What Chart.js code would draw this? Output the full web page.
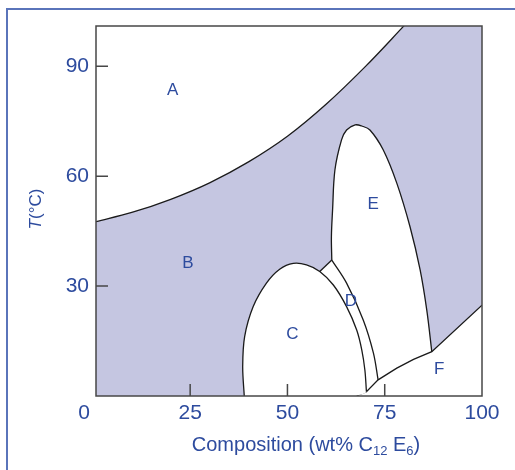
<!DOCTYPE html>
<html>
<head>
<meta charset="utf-8">
<script src="https://cdn.jsdelivr.net/npm/chart.js@4.4.1/dist/chart.umd.min.js"></script>
<style>
  html, body { margin: 0; padding: 0; background: #fff; }
  #wrap { position: relative; width: 515px; height: 470px; }
</style>
</head>
<body>
<div id="wrap"><canvas id="phase"></canvas></div>
<script>
// C12E6 / 水 相图 (组成 wt% vs 温度 °C)

const X_MIN = 0.8, X_MAX = 100, Y_MIN = 0, Y_MAX = 101;
const X_TICKS = [0, 25, 50, 75, 100];
const Y_TICKS = [30, 60, 90];

// A / B 分界线
const abX = [0.8, 10, 20, 30, 40, 50, 60, 70, 80, 83];
const abY = [47.6, 50.1, 53.7, 58.2, 63.9, 70.9, 79.7, 89.9, 101.1, 104.5];

// C 区穹顶 (左下 -> 右下)
const cX = [38.9, 38.5, 39.0, 41.2, 44.6, 48.0, 51.5, 54.9, 58.3, 61.8, 65.2, 67.8, 69.1, 69.9, 70.3];
const cY = [0, 8.0, 16.2, 24.4, 30.8, 34.6, 36.2, 35.8, 34.0, 30.3, 24.4, 18.0, 12.6, 7.1, 1.2];
const C_JOIN = 8; // 与 D 区连线的交点

// C 顶到 E 底的短连线
const jX = [58.3, 61.4];
const jY = [34.0, 37.1];

// D / E 分界
const dX = [61.4, 65.2, 69.5, 72.1, 73.3];
const dY = [37.1, 30.8, 20.7, 11.7, 4.4];

// E 区边界
const eX = [61.4, 61.3, 61.6, 62.2, 63.9, 65.2, 67.4, 69.1, 71.2, 74.6, 78.1, 81.5, 84.1, 85.8, 87.1];
const eY = [37.1, 43.5, 50.8, 61.7, 69.9, 72.6, 74.0, 73.7, 72.6, 67.2, 58.1, 46.2, 34.4, 23.5, 12.1];

// F 区上边界
const fX = [67.6, 70.3, 73.3, 78.1, 82.4, 87.1, 100];
const fY = [0, 1.2, 4.4, 7.6, 10.0, 12.1, 24.8];

// 区域标注
const regionNames = ["A", "B", "C", "D", "E", "F"];
const regionX = [20.5, 24.4, 51.3, 66.3, 72.0, 89.0];
const regionY = [83.9, 36.7, 17.3, 26.1, 52.6, 7.6];

const COLORS = {
  text: "#2d4b9e",
  frame: "#5a74ba",
  shade: "#c5c6e1",
  line: "#1a1a1a",
  axis: "#474747",
};
const FONT = "'Liberation Sans', Arial, sans-serif";

const pts = (xs, ys) => xs.map((x, i) => ({ x, y: ys[i] }));

const cFill = [...pts(cX, cY), { x: fX[0], y: fY[0] }];
const deFill = [
  ...pts(cX, cY).slice(C_JOIN),
  ...pts(fX, fY).slice(2, 6),
  ...pts(eX, eY).reverse(),
];

const base = { pointRadius: 0, borderColor: COLORS.line, borderWidth: 1.3, tension: 0.35 };

const datasets = [
  // 底色 (B 区)
  { ...base, data: [{ x: X_MIN, y: Y_MIN }, { x: X_MAX, y: Y_MIN }], borderWidth: 0,
    fill: "end", backgroundColor: COLORS.shade, order: 9 },
  // A 区
  { ...base, data: pts(abX, abY), fill: "end", backgroundColor: "#fff", order: 8 },
  // D + E 区白底
  { ...base, data: deFill, borderWidth: 0, tension: 0, fill: "shape", backgroundColor: "#fff", order: 7 },
  // F 区
  { ...base, data: pts(fX, fY), tension: 0, fill: "start", backgroundColor: "#fff", order: 6 },
  // C 区白底
  { ...base, data: cFill, borderWidth: 0, fill: "shape", backgroundColor: "#fff", order: 5 },
  // 各区边界
  { ...base, data: pts(cX, cY), fill: false, order: 4 },
  { ...base, data: pts(jX, jY), tension: 0, fill: false, order: 3 },
  { ...base, data: pts(dX, dY), fill: false, order: 2 },
  { ...base, data: pts(eX, eY), fill: false, order: 1 },
];

const overlay = {
  id: "overlay",
  beforeDraw(chart) {
    const { ctx } = chart;
    ctx.save();
    ctx.strokeStyle = COLORS.frame;
    ctx.lineWidth = 2;
    ctx.beginPath();
    ctx.moveTo(7, 470);
    ctx.lineTo(7, 9);
    ctx.lineTo(515, 9);
    ctx.stroke();
    ctx.restore();
  },
  afterDraw(chart) {
    const { ctx, chartArea: a, scales: { x, y } } = chart;
    ctx.save();
    // 外框 + 内向刻度
    ctx.strokeStyle = COLORS.axis;
    ctx.lineWidth = 1.5;
    ctx.strokeRect(a.left, a.top, a.right - a.left, a.bottom - a.top);
    ctx.beginPath();
    X_TICKS.filter((v) => v > X_MIN && v < X_MAX).forEach((v) => {
      const px = x.getPixelForValue(v);
      ctx.moveTo(px, a.bottom);
      ctx.lineTo(px, a.bottom - 12);
    });
    Y_TICKS.forEach((v) => {
      const py = y.getPixelForValue(v);
      ctx.moveTo(a.left, py);
      ctx.lineTo(a.left + 12, py);
    });
    ctx.stroke();

    // 区域字母
    ctx.fillStyle = COLORS.text;
    ctx.font = `17px ${FONT}`;
    ctx.textAlign = "center";
    ctx.textBaseline = "alphabetic";
    regionNames.forEach((n, i) => {
      ctx.fillText(n, x.getPixelForValue(regionX[i]), y.getPixelForValue(regionY[i]) + 6);
    });

    // x 轴标题 (带下标)
    const parts = [
      ["Composition (wt% C", false],
      ["12", true],
      [" E", false],
      ["6", true],
      [")", false],
    ];
    const mainFont = `20px ${FONT}`, subFont = `13px ${FONT}`;
    let total = 0;
    parts.forEach(([t, sub]) => { ctx.font = sub ? subFont : mainFont; total += ctx.measureText(t).width; });
    let cx = 306 - total / 2;
    ctx.textAlign = "left";
    parts.forEach(([t, sub]) => {
      ctx.font = sub ? subFont : mainFont;
      ctx.fillText(t, cx, sub ? 455 : 451);
      cx += ctx.measureText(t).width;
    });

    // y 轴标题
    ctx.translate(41, 209);
    ctx.rotate(-Math.PI / 2);
    ctx.font = `italic 17px ${FONT}`;
    const wT = ctx.measureText("T").width;
    ctx.font = `17px ${FONT}`;
    const wRest = ctx.measureText("(°C)").width;
    const sx = -(wT + wRest) / 2;
    ctx.font = `italic 17px ${FONT}`;
    ctx.fillText("T", sx, 0);
    ctx.font = `17px ${FONT}`;
    ctx.fillText("(°C)", sx + wT, 0);
    ctx.restore();
  },
};

new Chart(document.getElementById("phase"), {
  type: "line",
  data: { datasets },
  options: {
    responsive: true,
    maintainAspectRatio: false,
    animation: false,
    events: [],
    layout: { padding: { left: 0, right: 33, top: 26, bottom: 0 } },
    plugins: { legend: { display: false }, tooltip: { enabled: false } },
    scales: {
      x: {
        type: "linear",
        min: X_MIN,
        max: X_MAX,
        afterBuildTicks: (s) => { s.ticks = X_TICKS.map((v) => ({ value: v })); },
        afterFit: (s) => { s.height = 74; },
        grid: { display: false, drawTicks: false },
        border: { display: false },
        ticks: {
          autoSkip: false, maxRotation: 0, padding: 5, color: COLORS.text,
          font: { size: 21, family: FONT },
          // 0 标签在原图中略微左移
          callback: (v) => (v === 0 ? "0   " : String(v)),
        },
      },
      y: {
        type: "linear",
        min: Y_MIN,
        max: Y_MAX,
        afterBuildTicks: (s) => { s.ticks = Y_TICKS.map((v) => ({ value: v })); },
        afterFit: (s) => { s.width = 96; },
        grid: { display: false, drawTicks: false },
        border: { display: false },
        ticks: { padding: 7, color: COLORS.text, font: { size: 21, family: FONT } },
      },
    },
  },
  plugins: [overlay],
});
</script>
</body>
</html>
